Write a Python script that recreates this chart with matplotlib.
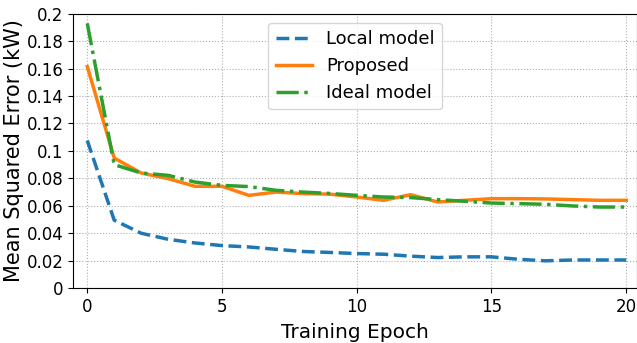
import numpy as np
import matplotlib
matplotlib.use("Agg")
import matplotlib.pyplot as plt
from matplotlib.ticker import FuncFormatter

epochs = np.arange(21)
local_model = [0.1076, 0.0495, 0.040, 0.0356, 0.0329, 0.031, 0.030, 0.0283, 0.0267, 0.026, 0.0252,
               0.0247, 0.0233, 0.0223, 0.0228, 0.0228, 0.021, 0.0199, 0.0205, 0.0205, 0.0205]
proposed = [0.1615, 0.0948, 0.0839, 0.0798, 0.0742, 0.0742, 0.0676, 0.070, 0.0689, 0.0685, 0.0664,
            0.064, 0.0681, 0.0628, 0.064, 0.0652, 0.0652, 0.065, 0.0645, 0.064, 0.064]
ideal_model = [0.193, 0.090, 0.0839, 0.0822, 0.0773, 0.0749, 0.074, 0.0713, 0.070, 0.069, 0.0676,
               0.0664, 0.066, 0.0645, 0.0633, 0.062, 0.0616, 0.0611, 0.0599, 0.0591, 0.0591]

fig = plt.figure(figsize=(6.37, 3.43), dpi=100)
ax = fig.add_axes([0.115, 0.16, 0.885, 0.80])

ax.plot(epochs, local_model, linestyle="--", color="#1f77b4", linewidth=2.5, label="Local model")
ax.plot(epochs, proposed, linestyle="-", color="#ff7f0e", linewidth=2.5, label="Proposed")
ax.plot(epochs, ideal_model, linestyle="-.", color="#2ca02c", linewidth=2.5, label="Ideal model")

ax.set_xlim(-0.52, 20.4)
ax.set_ylim(0, 0.2)
ax.set_xticks([0, 5, 10, 15, 20])
ax.set_yticks(np.arange(0, 0.201, 0.02))
ax.yaxis.set_major_formatter(FuncFormatter(lambda v, p: "%g" % round(v, 4)))
ax.tick_params(labelsize=12)
ax.grid(True, linestyle=":", color="#b0b0b0", linewidth=0.8)

ax.set_xlabel("Training Epoch", fontsize=14.5, labelpad=5)
ax.set_ylabel("Mean Squared Error (kW)", fontsize=15, labelpad=2)
ax.legend(loc="upper center", fontsize=13, bbox_to_anchor=(0.5, 1.0))

fig.savefig("out.png", dpi=100)
